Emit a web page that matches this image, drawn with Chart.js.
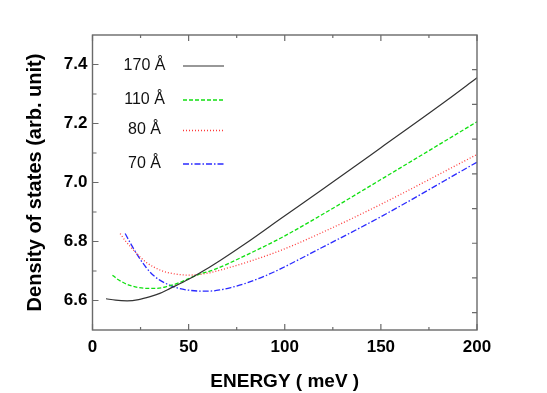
<!DOCTYPE html>
<html>
<head>
<meta charset="utf-8">
<script src="https://cdn.jsdelivr.net/npm/chart.js@4/dist/chart.umd.min.js"></script>
<style>
  body { margin: 0; background: #fff; }
  canvas { display: block; }
</style>
</head>
<body>
<canvas id="dosChart" width="547" height="393"></canvas>
<script>
// values (energy in meV, density of states in arb. units)
const energy170 = [7, 12, 18, 24, 30, 35, 40.4, 50, 56, 66.4, 80, 98, 118.6, 150, 184, 200];
const dos170 = [6.606, 6.601, 6.599, 6.603, 6.613, 6.624, 6.641, 6.672, 6.694, 6.736, 6.795, 6.878, 6.972, 7.118, 7.277, 7.355];

const energy110 = [10.4, 12.6, 16, 19.5, 24, 28, 33, 39, 45, 50, 56, 63, 80, 98, 118.6, 150, 200];
const dos110 = [6.686, 6.674, 6.661, 6.651, 6.644, 6.641, 6.641, 6.648, 6.660, 6.674, 6.690, 6.704, 6.754, 6.812, 6.888, 7.010, 7.206];

const energy80 = [14.4, 17, 19.5, 22, 25, 28, 32, 36, 40.4, 45, 50, 55, 61, 66.4, 80, 98, 118.6, 150, 200];
const dos80 = [6.827, 6.803, 6.784, 6.766, 6.746, 6.729, 6.713, 6.701, 6.693, 6.688, 6.686, 6.688, 6.694, 6.703, 6.729, 6.770, 6.828, 6.926, 7.095];

const energy70 = [17, 19.5, 21.7, 25, 28, 31, 35, 40.4, 45, 50, 56, 61, 66.4, 72, 80, 90, 98, 118.6, 150, 200];
const dos70 = [6.827, 6.797, 6.772, 6.738, 6.711, 6.689, 6.669, 6.651, 6.641, 6.635, 6.632, 6.632, 6.636, 6.644, 6.659, 6.684, 6.708, 6.777, 6.884, 7.069];

const legendLabels = ['170 Å', '110 Å', '80 Å', '70 Å'];

const xTicks = [0, 50, 100, 150, 200];
const xMinorTicks = [25, 75, 125, 175];
const yTicks = [6.6, 6.8, 7.0, 7.2, 7.4];
const yMinorTicks = [6.7, 6.9, 7.1, 7.3];
const rightTicks = [0.5, 1.5, 2.5, 3.5, 4.5, 5.5, 6.5, 7.5];

function toPoints(xs, ys) {
    return xs.map((x, i) => ({ x: x, y: ys[i] }));
}

const seriesStyles = [
    { color: '#333333', dash: [], width: 1.2 },
    { color: '#11e011', dash: [4, 2], width: 1.3 },
    { color: '#ff3b3b', dash: [1, 2], width: 1.3 },
    { color: '#2a2aff', dash: [6, 2, 1.5, 2], width: 1.3 }
];

const allData = [
    toPoints(energy170, dos170),
    toPoints(energy110, dos110),
    toPoints(energy80, dos80),
    toPoints(energy70, dos70)
];

const datasets = allData.map((pts, i) => ({
    label: legendLabels[i],
    data: pts,
    borderColor: seriesStyles[i].color,
    borderDash: seriesStyles[i].dash,
    borderWidth: seriesStyles[i].width,
    pointRadius: 0,
    showLine: true,
    fill: false,
    cubicInterpolationMode: 'monotone'
}));

// frame with inward ticks, like the original plot
const framePlugin = {
    id: 'frame',
    afterDraw(chart) {
        const ctx = chart.ctx;
        const a = chart.chartArea;
        const xs = chart.scales.x;
        const ys = chart.scales.y;
        const y2 = chart.scales.y2;
        ctx.save();
        ctx.strokeStyle = '#6a6a6a';
        ctx.lineWidth = 1.4;
        ctx.strokeRect(a.left, a.top, a.right - a.left, a.bottom - a.top);
        ctx.lineWidth = 1.2;
        ctx.beginPath();
        xTicks.forEach(v => {
            const px = xs.getPixelForValue(v);
            ctx.moveTo(px, a.bottom); ctx.lineTo(px, a.bottom - 6);
            ctx.moveTo(px, a.top); ctx.lineTo(px, a.top + 6);
        });
        xMinorTicks.forEach(v => {
            const px = xs.getPixelForValue(v);
            ctx.moveTo(px, a.bottom); ctx.lineTo(px, a.bottom - 3);
            ctx.moveTo(px, a.top); ctx.lineTo(px, a.top + 3);
        });
        yTicks.forEach(v => {
            const py = ys.getPixelForValue(v);
            ctx.moveTo(a.left, py); ctx.lineTo(a.left + 6, py);
        });
        yMinorTicks.forEach(v => {
            const py = ys.getPixelForValue(v);
            ctx.moveTo(a.left, py); ctx.lineTo(a.left + 4, py);
        });
        rightTicks.forEach(v => {
            const py = y2.getPixelForValue(v);
            ctx.moveTo(a.right, py); ctx.lineTo(a.right - 5, py);
        });
        ctx.stroke();

        // legend: label on the left, line sample on the right
        const rowY = [66, 100, 130.5, 164];
        ctx.font = '16px "Liberation Sans", Arial, sans-serif';
        ctx.fillStyle = '#111';
        ctx.textAlign = 'center';
        ctx.textBaseline = 'alphabetic';
        legendLabels.forEach((lab, i) => {
            const st = seriesStyles[i];
            ctx.fillText(lab, 144.5, rowY[i] + 3.5);
            ctx.beginPath();
            ctx.strokeStyle = st.color;
            ctx.lineWidth = st.width;
            ctx.setLineDash(st.dash);
            ctx.moveTo(183, rowY[i]);
            ctx.lineTo(224, rowY[i]);
            ctx.stroke();
        });
        ctx.restore();
    }
};

const tickFont = { family: '"Liberation Sans", Arial, sans-serif', size: 17, weight: 'bold' };

new Chart(document.getElementById('dosChart'), {
    type: 'scatter',
    data: { datasets: datasets },
    options: {
        responsive: false,
        animation: false,
        devicePixelRatio: 1,
        layout: { padding: { left: 0, top: 35, right: 70, bottom: 0 } },
        plugins: {
            legend: { display: false },
            tooltip: { enabled: false }
        },
        scales: {
            x: {
                type: 'linear',
                min: 0,
                max: 200,
                grid: { display: false, drawTicks: false },
                border: { display: false },
                afterBuildTicks: scale => { scale.ticks = xTicks.map(v => ({ value: v })); },
                afterFit: scale => { scale.height = 63; },
                ticks: { font: tickFont, color: '#000', padding: 7, maxRotation: 0 },
                title: {
                    display: true,
                    text: 'ENERGY ( meV )',
                    color: '#000',
                    font: { family: '"Liberation Sans", Arial, sans-serif', size: 19, weight: 'bold', lineHeight: 1.2 },
                    padding: { top: 0, bottom: 0 }
                }
            },
            y: {
                type: 'linear',
                min: 6.5,
                max: 7.5,
                grid: { display: false, drawTicks: false },
                border: { display: false },
                afterBuildTicks: scale => { scale.ticks = yTicks.map(v => ({ value: v })); },
                afterFit: scale => { scale.width = 92.5; },
                ticks: {
                    font: tickFont,
                    color: '#000',
                    padding: 5,
                    callback: v => Number(v).toFixed(1)
                },
                title: {
                    display: true,
                    text: 'Density of states (arb. unit)',
                    color: '#000',
                    font: { family: '"Liberation Sans", Arial, sans-serif', size: 20, weight: 'bold', lineHeight: 1.2 },
                    padding: { top: 23, bottom: 0 }
                }
            },
            y2: {
                type: 'linear',
                position: 'right',
                min: 0,
                max: 8.5,
                grid: { display: false, drawTicks: false },
                border: { display: false },
                ticks: { display: false },
                afterFit: scale => { scale.width = 0; }
            }
        }
    },
    plugins: [framePlugin]
});
</script>
</body>
</html>
